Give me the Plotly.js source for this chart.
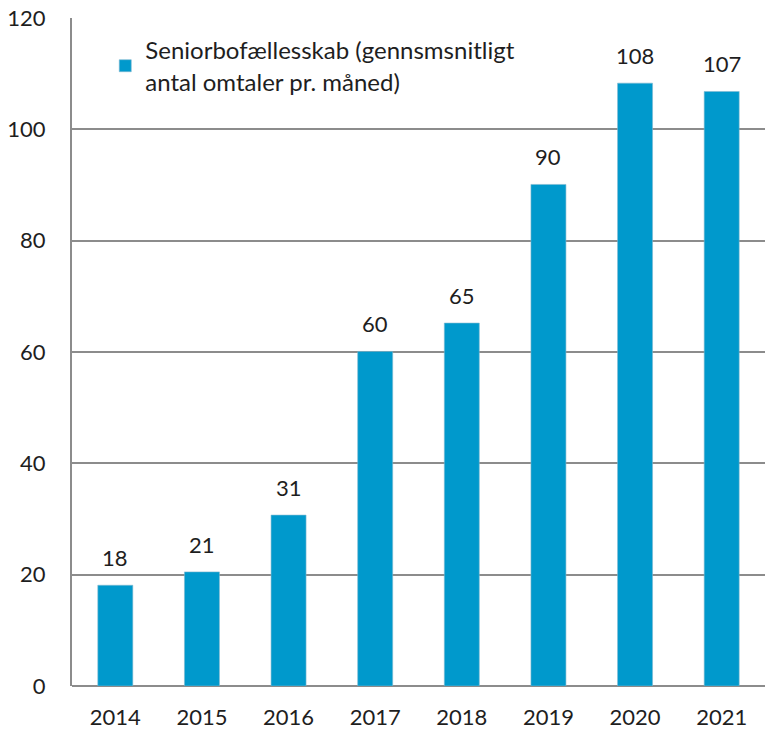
<!DOCTYPE html>
<html>
<head>
<meta charset="utf-8">
<script src="https://cdn.plot.ly/plotly-3.0.1.min.js"></script>
<style>html,body{margin:0;padding:0;background:#fff}#chart{width:765px;height:729px}</style>
</head>
<body>
<div id="chart"></div>
<script>
const years = ['2014','2015','2016','2017','2018','2019','2020','2021'];
const values = [18.1, 20.5, 30.7, 60.1, 65.2, 90.1, 108.3, 106.8];
const labels = ['18','21','31','60','65','90','108','107'];
const seriesName = 'Seniorbofællesskab (gennsmsnitligt<br>antal omtaler pr. måned)';
const yTicks = [0, 20, 40, 60, 80, 100, 120];

const FONT = 'Lato, "Open Sans", sans-serif';
const grey = '#8c8c8c';
const ink = '#1e1e1e';

const trace = {
  type: 'bar',
  x: years,
  y: values,
  name: seriesName,
  marker: {color: '#0099cc', line: {color: '#7fb8d0', width: 0.6}},
  hoverinfo: 'x+y',
  showlegend: true
};

const annotations = years.map((yr, i) => ({
  x: i, y: values[i], xref: 'x', yref: 'y',
  text: labels[i], showarrow: false,
  xanchor: 'center', yanchor: 'bottom', yshift: 12,
  font: {family: FONT, size: 22, color: ink}
}));

const layout = {
  width: 765, height: 729,
  margin: {l: 72, r: 0, t: 18, b: 43, pad: 0},
  paper_bgcolor: '#fff', plot_bgcolor: '#fff',
  font: {family: FONT, size: 22, color: ink},
  bargap: 0.596,
  showlegend: true,
  legend: {
    x: 0.048, xanchor: 'left', y: 0.985, yanchor: 'top',
    bgcolor: 'rgba(0,0,0,0)', borderwidth: 0,
    itemwidth: 30,
    font: {family: FONT, size: 24, color: ink}
  },
  xaxis: {
    type: 'category',
    range: [-0.5, 7.5],
    showgrid: false, zeroline: false,
    showline: false,
    ticks: '', ticklabelstandoff: 16,
    tickfont: {family: FONT, size: 22, color: ink},
    fixedrange: true
  },
  yaxis: {
    range: [0, 120],
    tickvals: yTicks,
    ticktext: yTicks.map(String),
    showgrid: true, gridcolor: grey, gridwidth: 2,
    zeroline: true, zerolinecolor: grey, zerolinewidth: 2,
    showline: true, linecolor: grey, linewidth: 2,
    ticks: '', ticklabelstandoff: 20,
    tickfont: {family: FONT, size: 22, color: ink},
    fixedrange: true
  },
  annotations: annotations
};

Plotly.newPlot('chart', [trace], layout, {displayModeBar: false, staticPlot: true});
</script>
</body>
</html>
